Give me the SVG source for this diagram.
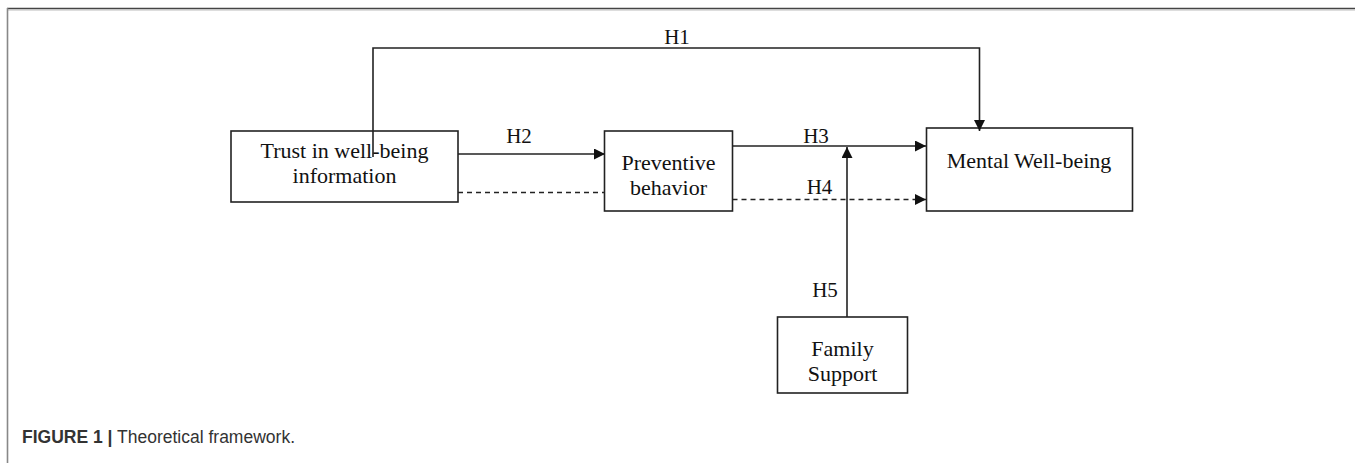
<svg xmlns="http://www.w3.org/2000/svg" width="1355" height="463" viewBox="0 0 1355 463">
<style>
.box{fill:#fff;stroke:#222;stroke-width:1.6}
.lbl{font-family:"Liberation Serif","Times New Roman",serif;font-size:22px;fill:#111;text-anchor:middle}
.h{font-family:"Liberation Serif","Times New Roman",serif;font-size:21px;fill:#111;text-anchor:middle}
.c{fill:none;stroke:#222;stroke-width:1.6}
.d{stroke-dasharray:5,4}
.cap{font-family:"Liberation Sans",Arial,sans-serif;font-size:17.5px;fill:#333}
</style>
<defs>
<marker id="ah" markerUnits="userSpaceOnUse" markerWidth="11" markerHeight="11" viewBox="0 0 10 10" refX="10" refY="5" orient="auto">
<path d="M0,0 L10,5 L0,10 z" fill="#111"/>
</marker>
</defs>
<rect width="1355" height="463" fill="#fff"/>
<g id="frame">
<line x1="7" y1="8.5" x2="1355" y2="8.5" stroke="#444" stroke-width="1.5"/>
<line x1="7" y1="10" x2="1355" y2="10" stroke="#bbb" stroke-width="1"/>
<line x1="7.5" y1="8" x2="7.5" y2="463" stroke="#888" stroke-width="1.6"/>
</g>
<g id="trust">
<rect class="box" x="231" y="131" width="227" height="71"/>
<text class="lbl" x="344.5" y="158">Trust in well-being</text>
<text class="lbl" x="344.5" y="183">information</text>
</g>
<g id="preventive">
<rect class="box" x="604.5" y="131" width="128" height="80"/>
<text class="lbl" x="668.5" y="170">Preventive</text>
<text class="lbl" x="668.5" y="195">behavior</text>
</g>
<g id="mental">
<rect class="box" x="926.5" y="128" width="206" height="83"/>
<text class="lbl" x="1029" y="168">Mental Well-being</text>
</g>
<g id="family">
<rect class="box" x="777.5" y="317" width="130" height="76"/>
<text class="lbl" x="842.5" y="356">Family</text>
<text class="lbl" x="842.5" y="381">Support</text>
</g>
<g id="connectors">
<path class="c" d="M373,157 V48 H979.5 V131" marker-end="url(#ah)"/>
<path class="c" d="M458,154 H605" marker-end="url(#ah)"/>
<path class="c d" d="M458,192.5 H604"/>
<path class="c" d="M732.5,146 H926" marker-end="url(#ah)"/>
<path class="c d" d="M732.5,199.5 H926" marker-end="url(#ah)"/>
<path class="c" d="M847,317 V147" marker-end="url(#ah)"/>
<text class="h" x="677" y="44">H1</text>
<text class="h" x="519" y="143">H2</text>
<text class="h" x="816" y="143">H3</text>
<text class="h" x="819.5" y="194">H4</text>
<text class="h" x="825" y="297">H5</text>
</g>
<g id="caption">
<text class="cap" x="22" y="443"><tspan font-weight="bold">FIGURE 1 |</tspan> Theoretical framework.</text>
</g>
</svg>
